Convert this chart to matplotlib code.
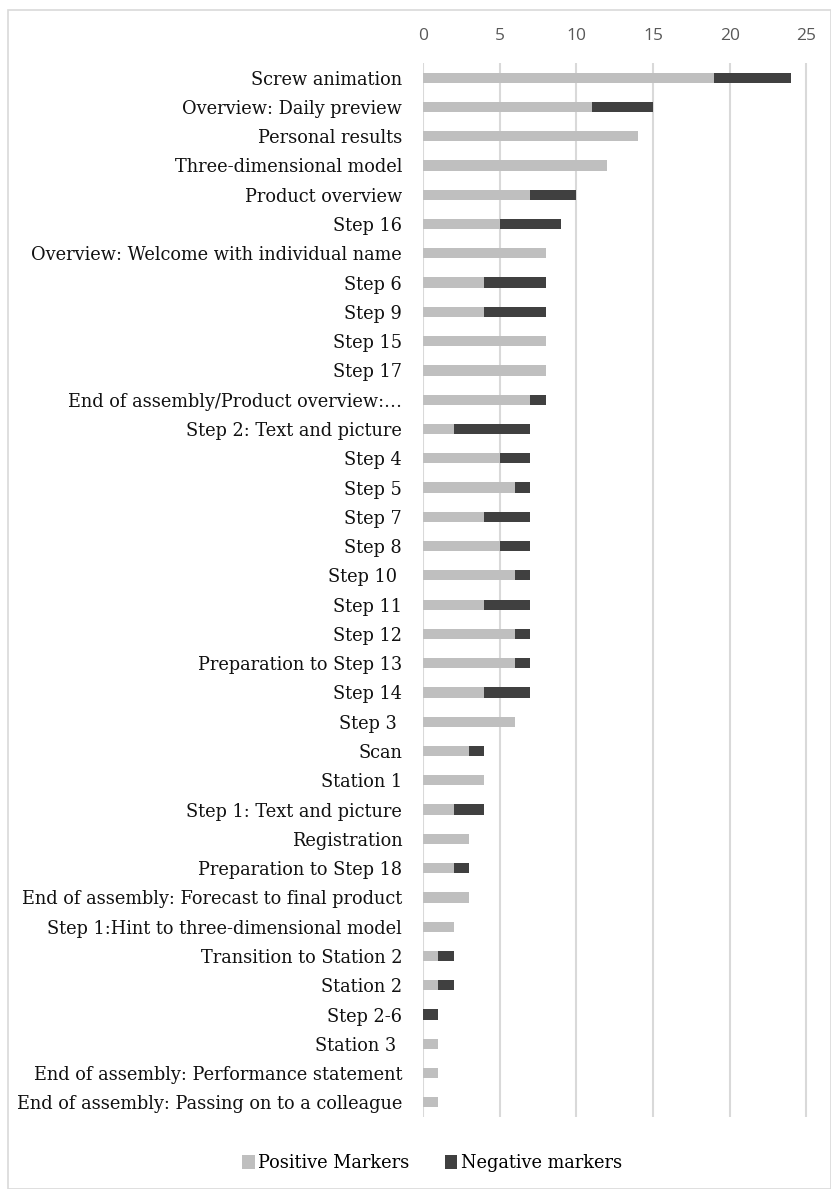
import matplotlib
matplotlib.use("Agg")
import matplotlib.pyplot as plt
from matplotlib.patches import Rectangle
import numpy as np

categories = [
    "Screw animation",
    "Overview: Daily preview",
    "Personal results",
    "Three-dimensional model",
    "Product overview",
    "Step 16",
    "Overview: Welcome with individual name",
    "Step 6",
    "Step 9",
    "Step 15",
    "Step 17",
    "End of assembly/Product overview:\u2026",
    "Step 2: Text and picture",
    "Step 4",
    "Step 5",
    "Step 7",
    "Step 8",
    "Step 10 ",
    "Step 11",
    "Step 12",
    "Preparation to Step 13",
    "Step 14",
    "Step 3 ",
    "Scan",
    "Station 1",
    "Step 1: Text and picture",
    "Registration",
    "Preparation to Step 18",
    "End of assembly: Forecast to final product",
    "Step 1:Hint to three-dimensional model",
    "Transition to Station 2",
    "Station 2",
    "Step 2-6",
    "Station 3 ",
    "End of assembly: Performance statement",
    "End of assembly: Passing on to a colleague",
]
positive = [19, 11, 14, 12, 7, 5, 8, 4, 4, 8, 8, 7, 2, 5, 6, 4, 5, 6, 4, 6, 6, 4, 6,
            3, 4, 2, 3, 2, 3, 2, 1, 1, 0, 1, 1, 1]
negative = [5, 4, 0, 0, 3, 4, 0, 4, 4, 0, 0, 1, 5, 2, 1, 3, 2, 1, 3, 1, 1, 3, 0,
            1, 0, 2, 0, 1, 0, 0, 1, 1, 1, 0, 0, 0]
series_names = ["Positive Markers", "Negative markers"]
xticks = [0, 5, 10, 15, 20, 25]

W, H = 831, 1189
fig = plt.figure(figsize=(W / 100, H / 100), dpi=100)
plt.rcParams['font.family'] = ['DejaVu Serif']

ax = fig.add_axes([423 / W, 1 - 1117 / H, (808 - 423) / W, (1117 - 63) / H])
y = np.arange(len(categories))
pos_c = "#bfbfbf"
neg_c = "#404040"
h = 0.35
ax.barh(y, positive, height=h, color=pos_c, label=series_names[0], zorder=3)
ax.barh(y, negative, left=positive, height=h, color=neg_c, label=series_names[1], zorder=3)

ax.set_ylim(len(categories) - 0.5, -0.5)
ax.set_xlim(0, 25.1)
ax.set_xticks(xticks)
ax.set_xticklabels([str(t) for t in xticks], family=['Open Sans', 'DejaVu Sans'])
ax.xaxis.tick_top()
ax.tick_params(axis='x', length=0, pad=14, labelsize=12.5, labelcolor="#595959")
ax.set_yticks(y)
ax.set_yticklabels(categories, fontsize=12.8, color="#111111")
ax.tick_params(axis='y', length=0, pad=15)
for s in ax.spines.values():
    s.set_visible(False)
ax.grid(axis='x', color="#d9d9d9", linewidth=1.5, zorder=0)

leg = fig.legend(loc='center', bbox_to_anchor=(0.52, 1 - 1163 / H), ncol=2, frameon=False,
                 fontsize=12.8, handlelength=0.7, handleheight=0.8, handletextpad=0.2,
                 columnspacing=2.0)

fig.patches.append(Rectangle((8 / W, 0), 1 - 8 / W, 1 - 10 / H, transform=fig.transFigure,
                             fill=False, edgecolor="#d9d9d9", linewidth=1.2))

fig.savefig("out.png", dpi=100)
